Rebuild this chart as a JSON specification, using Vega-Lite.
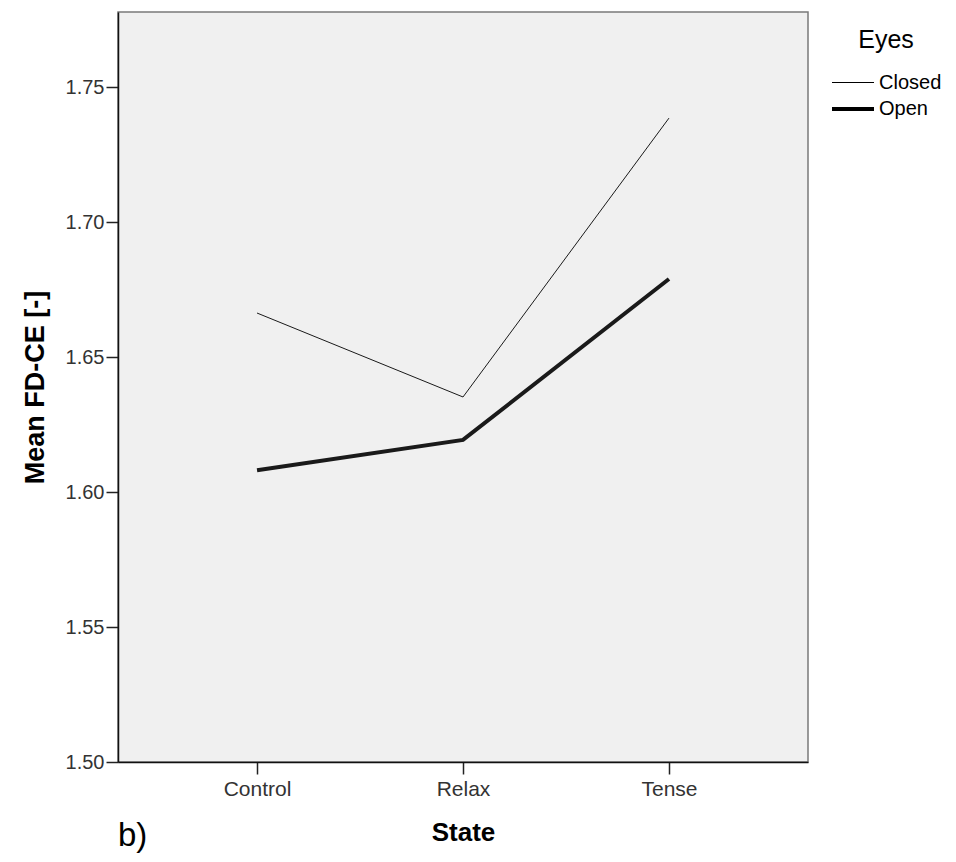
{
  "$schema": "https://vega.github.io/schema/vega-lite/v6.json",
  "width": 690,
  "height": 750,
  "autosize": {"type": "none"},
  "padding": {"left": 118, "top": 12, "right": 148, "bottom": 100},
  "background": "white",
  "title": {"text": "b)", "orient": "bottom", "anchor": "start", "frame": "group", "fontSize": 33, "font": "Liberation Sans", "fontWeight": "normal", "color": "#000", "offset": 0, "dy": -25},
  "config": {
    "view": {"fill": "#f0f0f0", "stroke": "#7a7a7a", "strokeWidth": 1.5},
    "font": "Liberation Sans"
  },
  "data": {
    "values": [
      {"State": "Control", "Eyes": "Closed", "Mean": 1.6663},
      {"State": "Relax", "Eyes": "Closed", "Mean": 1.6352},
      {"State": "Tense", "Eyes": "Closed", "Mean": 1.7385},
      {"State": "Control", "Eyes": "Open", "Mean": 1.6081},
      {"State": "Relax", "Eyes": "Open", "Mean": 1.6193},
      {"State": "Tense", "Eyes": "Open", "Mean": 1.6789}
    ]
  },
  "mark": {"type": "line", "color": "#1a1a1a", "strokeJoin": "miter", "strokeCap": "butt"},
  "encoding": {
    "x": {
      "field": "State", "type": "ordinal",
      "scale": {"type": "point", "padding": 0.675, "domain": ["Control", "Relax", "Tense"]},
      "axis": {
        "title": "State", "titleFontSize": 26, "titleFontWeight": "bold", "titleColor": "#000", "titlePadding": 20,
        "labelFontSize": 21, "labelColor": "#333", "labelPadding": 4, "labelAngle": 0,
        "tickSize": 12, "tickColor": "#222", "tickWidth": 1.5,
        "domainColor": "#111", "domainWidth": 1.5, "grid": false
      }
    },
    "y": {
      "field": "Mean", "type": "quantitative",
      "scale": {"domain": [1.5, 1.7778], "nice": false, "zero": false},
      "axis": {
        "title": "Mean FD-CE [-]", "titleFontSize": 27, "titleFontWeight": "bold", "titleColor": "#000", "titlePadding": 16,
        "values": [1.5, 1.55, 1.6, 1.65, 1.7, 1.75], "format": ".2f",
        "labelFontSize": 20, "labelColor": "#333", "labelPadding": 2,
        "tickSize": 12, "tickColor": "#222", "tickWidth": 1.5,
        "domainColor": "#111", "domainWidth": 1.5, "grid": false
      }
    },
    "strokeWidth": {
      "field": "Eyes", "type": "nominal",
      "scale": {"domain": ["Closed", "Open"], "range": [1, 4]},
      "legend": {
        "orient": "none", "legendX": 712, "legendY": 16,
        "title": "Eyes", "titleFontSize": 25, "titleFontWeight": "normal", "titleColor": "#000",
        "titleAnchor": "middle", "titlePadding": 15,
        "labelFontSize": 20, "labelColor": "#000", "labelOffset": 17,
        "symbolType": "M-1,0H2", "symbolSize": 784, "symbolStrokeColor": "#000", "symbolFillColor": "transparent",
        "rowPadding": 0
      }
    }
  }
}
